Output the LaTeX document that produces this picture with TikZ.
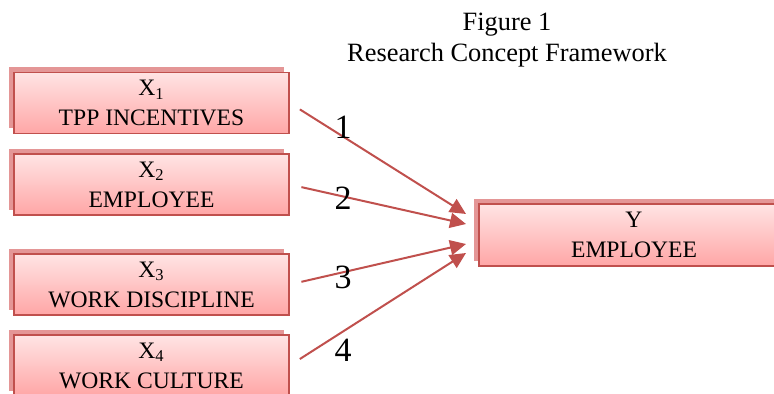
\documentclass[tikz,border=0pt]{standalone}
\usepackage{fontspec}
\setmainfont{Liberation Serif}
\usepackage{tikz}
\usepackage{xcolor}
\usetikzlibrary{shadows}
\usetikzlibrary{arrows.meta}
\definecolor{boxline}{RGB}{192,80,77}
\definecolor{boxtop}{RGB}{255,228,228}
\definecolor{boxbot}{RGB}{255,166,166}
\definecolor{boxshade}{RGB}{228,150,150}

\begin{document}
\begin{tikzpicture}[x=.5pt,y=-.5pt,
    varbox/.style={draw=boxline, line width=.7pt, top color=boxtop, bottom color=boxbot,
      minimum width=137.5pt, minimum height=30.5pt, inner sep=0pt, align=center,
      font=\fontsize{11.8}{15}\selectfont,
      drop shadow={shadow xshift=-2.5pt, shadow yshift=2.5pt, fill=boxshade, opacity=1}},
    link/.style={draw=boxline, line width=1pt, -{Triangle[length=8pt,width=7.5pt]}, shorten <=6pt},
    num/.style={font=\fontsize{17}{20}\selectfont, inner sep=0pt}]
  \useasboundingbox (0,0) rectangle (774,394);
  \clip (0,0) rectangle (774,394);
  \node (fig) at (507,40) [align=center, font=\fontsize{13.2}{15.5}\selectfont]
    {Figure 1\\Research Concept Framework};
  \node (x1) at (151.5,103) [varbox] {X\textsubscript{1}\\TPP INCENTIVES};
  \node (x2) at (151.5,184.5) [varbox] {X\textsubscript{2}\\EMPLOYEE};
  \node (x3) at (151.5,284.5) [varbox] {X\textsubscript{3}\\WORK DISCIPLINE};
  \node (x4) at (151.5,365.5) [varbox] {X\textsubscript{4}\\WORK CULTURE};
  \node (y) at (634,235) [varbox, minimum width=155pt, minimum height=31pt] {Y\\EMPLOYEE};
  \coordinate (t1) at (466,214);
  \coordinate (t2) at (466,224);
  \coordinate (t3) at (466,244);
  \coordinate (t4) at (466,253);
  \draw[link] (x1.east) -- (t1);
  \draw[link] (x2.east) -- (t2);
  \draw[link] (x3.east) -- (t3);
  \draw[link] (x4.east) -- (t4);
  \node (n1) at (343,127) [num] {1};
  \node (n2) at (343,198) [num] {2};
  \node (n3) at (343,277) [num] {3};
  \node (n4) at (343,350) [num] {4};
\end{tikzpicture}
\end{document}
